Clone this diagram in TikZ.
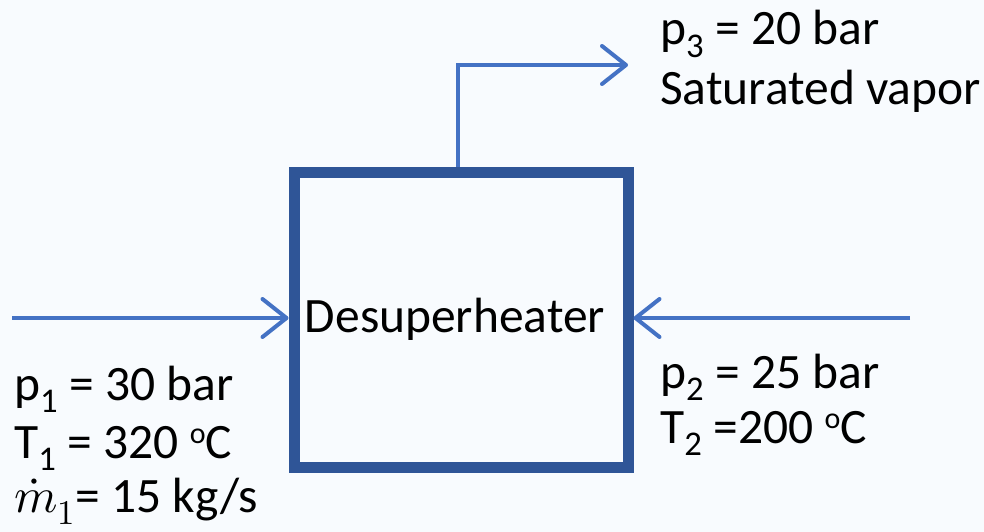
\documentclass[tikz,border=0pt]{standalone}
\usepackage{unicode-math}
\setmainfont{Carlito}
\setmathfont{Latin Modern Math}
\usetikzlibrary{arrows.meta}
\definecolor{boxblue}{HTML}{2F5597}
\definecolor{flowblue}{HTML}{4472C4}
\definecolor{paper}{HTML}{F8FBFE}
\newcommand{\degc}{\raisebox{0.3em}{\fontsize{30}{30}\selectfont o}C}
\begin{document}
\begin{tikzpicture}[x=1pt,y=-1pt,>={Straight Barb[length=24pt,width=38pt,round]},
  flow/.style={->,color=flowblue,line width=4pt},
  lbl/.style={anchor=base west,inner sep=0pt,font=\fontsize{49.5}{59}\selectfont}]
	% background and size of the picture
	\fill[paper] (0,0) rectangle (984,532);
	\useasboundingbox (0,0) rectangle (984,532);
	% the desuperheater
	\node[draw=boxblue,line width=11pt,minimum width=334pt,minimum height=295pt,
	  font=\fontsize{49.5}{59}\selectfont] (desup) at (461,319.5) {\hspace*{-12pt}Desuperheater};
	% streams in and out
	\coordinate (inA) at (12,318);
	\coordinate (inB) at (910,318);
	\coordinate (outC) at (628,65);
	\draw[flow] (inA) -- (inA -| desup.west);
	\draw[flow] (inB) -- (inB -| desup.east);
	\draw[flow] ([xshift=-3pt]desup.north) |- (outC);
	% stream data
	\node[lbl] (pA) at (14,400) {p\textsubscript{1} = 30 bar};
	\node[lbl] (TA) at (14,458) {T\textsubscript{1} = 320 \degc};
	\node[lbl] (mA) at (14,512) {$\dot{m}_1$= 15 kg/s};
	\node[lbl] (pB) at (660,388) {p\textsubscript{2} = 25 bar};
	\node[lbl] (TB) at (660,443) {T\textsubscript{2} =200 \degc};
	\node[lbl] (pC) at (660,45) {p\textsubscript{3} = 20 bar};
	\node[lbl] (sC) at (660,105) {Saturated vapor};
\end{tikzpicture}
\end{document}
